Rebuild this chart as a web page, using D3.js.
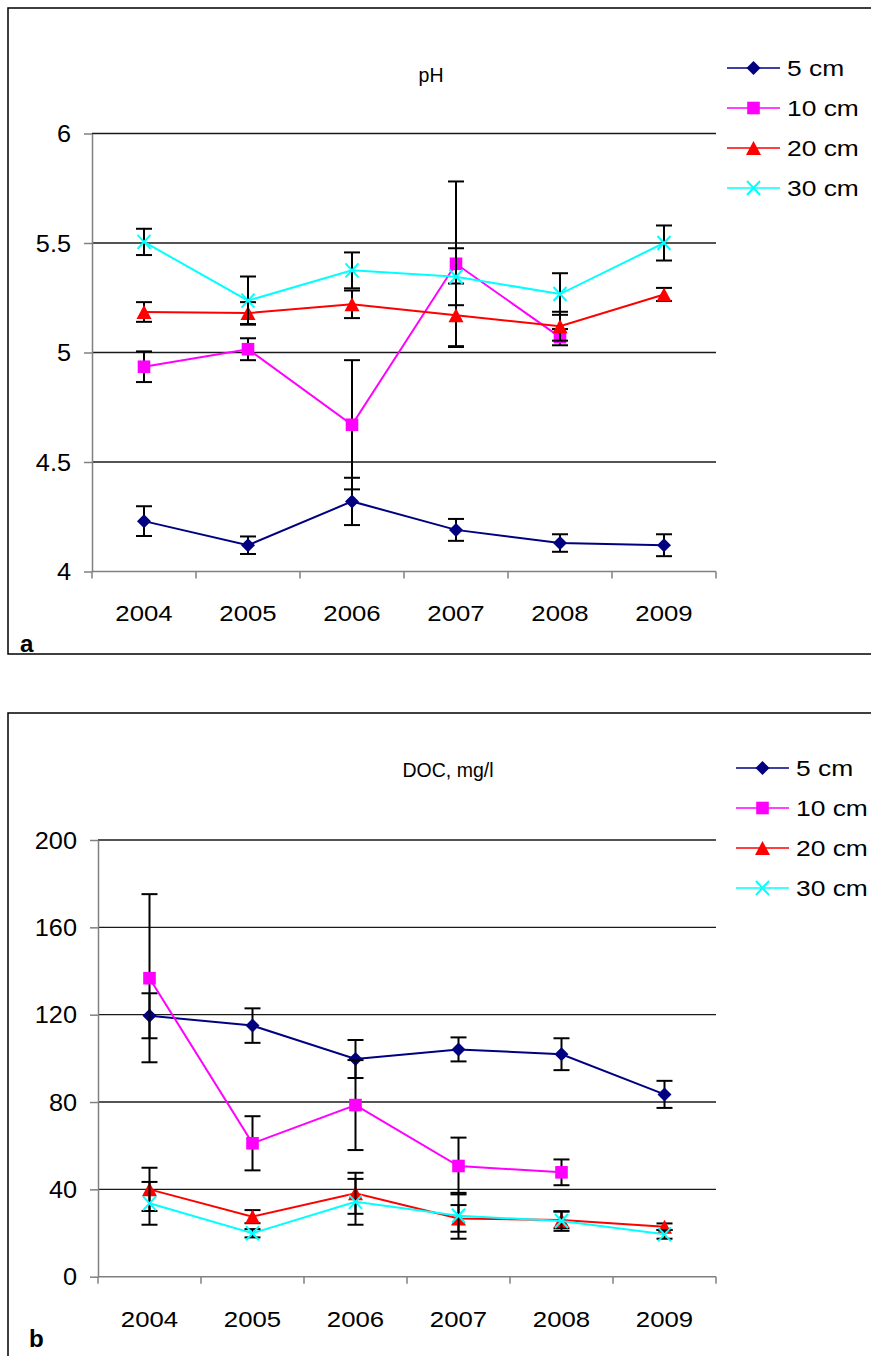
<!DOCTYPE html>
<html>
<head>
<meta charset="utf-8">
<script src="https://d3js.org/d3.v7.min.js"></script>
<style>
  body { margin: 0; background: #fff; }
  svg { display: block; background: #fff; }
  text { font-family: Arial, "Liberation Sans", sans-serif; fill: #000; }
  .axis .domain { stroke: #808080; stroke-width: 1.5px; }
  .axis .tick line { stroke: #808080; stroke-width: 1.5px; }
  .axis .tick text { font-size: 23px; }
</style>
</head>
<body>
<div id="chart"></div>
<script>
  // categories and legend
  const years = ["2004", "2005", "2006", "2007", "2008", "2009"];
  const depths = ["5 cm", "10 cm", "20 cm", "30 cm"];
  const colors = ["#000080", "#ff00ff", "#ff0000", "#00ffff"];
  const shapes = ["diamond", "square", "triangle", "cross"];

  // panel a: pH (mean and error)
  const ph5 = [4.23, 4.12, 4.32, 4.19, 4.13, 4.12];
  const ph5Err = [0.068, 0.04, 0.108, 0.05, 0.04, 0.05];
  const ph10 = [4.935, 5.015, 4.67, 5.405, 5.07, null];
  const ph10Err = [0.07, 0.05, 0.295, 0.376, 0.037, null];
  const ph20 = [5.185, 5.18, 5.22, 5.17, 5.12, 5.265];
  const ph20Err = [0.045, 0.05, 0.063, 0.145, 0.066, 0.03];
  const ph30 = [5.505, 5.237, 5.375, 5.346, 5.267, 5.5];
  const ph30Err = [0.06, 0.11, 0.082, 0.13, 0.095, 0.08];
  const phTicks = [4, 4.5, 5, 5.5, 6];

  // panel b: DOC, mg/l
  const doc5 = [119.5, 115, 99.7, 104.1, 101.9, 83.5];
  const doc5Err = [10.3, 7.9, 8.7, 5.5, 7.3, 6.2];
  const doc10 = [136.7, 61.1, 78.6, 50.7, 47.8, null];
  const doc10Err = [38.5, 12.4, 20.6, 13, 5.9, null];
  const doc20 = [40, 27.5, 38.2, 26.7, 26, 22.9];
  const doc20Err = [9.9, 3, 9.4, 6.1, 3.8, 1.5];
  const doc30 = [33.6, 19.9, 34.3, 27.9, 25.5, 19.4];
  const doc30Err = [9.8, 1.9, 10.5, 10.5, 4.5, 2];
  const docTicks = [0, 40, 80, 120, 160, 200];

  const SX = 1.1; // text in the picture is a bit wider than the font

  const svg = d3.select("#chart").append("svg")
    .attr("width", 871)
    .attr("height", 1356);

  // marker shapes
  function markerPath(s) {
    if (s === "diamond") return "M0,-7L7,0L0,7L-7,0Z";
    if (s === "square") return "M-6.3,-6.3H6.3V6.3H-6.3Z";
    if (s === "triangle") return "M0,-7L7.5,7L-7.5,7Z";
    return "M-6.5,-7L6.5,7M6.5,-7L-6.5,7";
  }
  function drawMarker(g, s, c) {
    const p = g.append("path").attr("d", markerPath(s));
    if (s === "cross") p.attr("fill", "none").attr("stroke", c).attr("stroke-width", 2);
    else p.attr("fill", c);
  }

  function drawPanel(cfg) {
    const g = svg.append("g");

    // outer frame
    g.append("rect")
      .attr("x", cfg.frame[0]).attr("y", cfg.frame[1])
      .attr("width", cfg.frame[2]).attr("height", cfg.frame[3])
      .attr("fill", "none").attr("stroke", "#000").attr("stroke-width", 1.5);

    const x = d3.scaleBand().domain(years).range([cfg.left, cfg.right]);
    const y = d3.scaleLinear().domain(cfg.domain).range([cfg.bottom, cfg.top]);
    const cx = d => x(d) + x.bandwidth() / 2;

    // gridlines
    g.append("g").selectAll("line")
      .data(cfg.ticks.filter(t => t !== cfg.domain[0]))
      .join("line")
      .attr("x1", cfg.left).attr("x2", cfg.right)
      .attr("y1", d => y(d)).attr("y2", d => y(d))
      .attr("stroke", "#1a1a1a").attr("stroke-width", 1.3);

    // y axis
    const ya = g.append("g").attr("class", "axis")
      .attr("transform", `translate(${cfg.left},0)`)
      .call(d3.axisLeft(y).tickValues(cfg.ticks).tickSize(8).tickSizeOuter(0)
        .tickFormat(d => String(d)));
    ya.selectAll(".tick text")
      .attr("x", 0)
      .attr("dy", "0.35em")
      .attr("transform", `translate(-21,0) scale(${SX},1)`);

    // x axis: ticks at category boundaries
    g.append("line")
      .attr("x1", cfg.left).attr("x2", cfg.right)
      .attr("y1", cfg.bottom).attr("y2", cfg.bottom)
      .attr("stroke", "#808080").attr("stroke-width", 1.5);
    g.append("g").selectAll("line")
      .data(years.map(d => x(d)).concat([cfg.right]))
      .join("line")
      .attr("x1", d => d).attr("x2", d => d)
      .attr("y1", cfg.bottom).attr("y2", cfg.bottom + 7)
      .attr("stroke", "#808080").attr("stroke-width", 1.5);
    g.append("g").selectAll("text")
      .data(years)
      .join("text")
      .attr("transform", d => `translate(${cx(d)},${cfg.xLabelY}) scale(${SX + 0.02},1)`)
      .attr("text-anchor", "middle")
      .style("font-size", "23px")
      .text(d => d);

    // title
    g.append("text")
      .attr("transform", `translate(${cfg.titleX},${cfg.titleY})`)
      .attr("text-anchor", "middle")
      .style("font-size", "19.5px")
      .text(cfg.title);

    // panel letter
    g.append("text")
      .attr("transform", `translate(${cfg.letterX},${cfg.letterY}) scale(1.05,1)`)
      .style("font-size", "23px").style("font-weight", "bold")
      .text(cfg.letter);

    // series
    cfg.series.forEach((vals, i) => {
      const errs = cfg.errors[i];
      const pts = years.map((yr, j) => ({ yr, v: vals[j], e: errs[j] })).filter(p => p.v != null);
      const line = d3.line().x(p => cx(p.yr)).y(p => y(p.v));
      g.append("path").datum(pts)
        .attr("d", line)
        .attr("fill", "none").attr("stroke", colors[i]).attr("stroke-width", 2);

      const eb = g.append("g").attr("stroke", "#000").attr("stroke-width", 2);
      pts.forEach(p => {
        const xc = cx(p.yr);
        eb.append("line").attr("x1", xc).attr("x2", xc)
          .attr("y1", y(p.v + p.e)).attr("y2", y(p.v - p.e));
        [p.v + p.e, p.v - p.e].forEach(v => {
          eb.append("line").attr("x1", xc - 8).attr("x2", xc + 8)
            .attr("y1", y(v)).attr("y2", y(v));
        });
      });

      pts.forEach(p => {
        const mg = g.append("g").attr("transform", `translate(${cx(p.yr)},${y(p.v)})`);
        drawMarker(mg, shapes[i], colors[i]);
      });
    });

    // legend
    depths.forEach((name, i) => {
      const ly = cfg.legendY + i * 40;
      const lg = g.append("g");
      lg.append("line")
        .attr("x1", cfg.legendX).attr("x2", cfg.legendX + 53)
        .attr("y1", ly).attr("y2", ly)
        .attr("stroke", colors[i]).attr("stroke-width", 1.5);
      drawMarker(lg.append("g").attr("transform", `translate(${cfg.legendX + 26.5},${ly})`), shapes[i], colors[i]);
      lg.append("text")
        .attr("transform", `translate(${cfg.legendX + 60},${ly + 8}) scale(1.2,1)`)
        .style("font-size", "22px")
        .text(name);
    });
  }

  drawPanel({
    frame: [8, 8, 870, 646],
    left: 92, right: 716, top: 133.5, bottom: 571.5,
    domain: [4, 6], ticks: phTicks,
    xLabelY: 621, title: "pH", titleX: 431, titleY: 82,
    letter: "a", letterX: 20, letterY: 652,
    legendX: 727, legendY: 68,
    series: [ph5, ph10, ph20, ph30],
    errors: [ph5Err, ph10Err, ph20Err, ph30Err]
  });

  drawPanel({
    frame: [8, 713, 870, 660],
    left: 98, right: 716, top: 840, bottom: 1276.7,
    domain: [0, 200], ticks: docTicks,
    xLabelY: 1327, title: "DOC, mg/l", titleX: 448, titleY: 777,
    letter: "b", letterX: 29, letterY: 1347,
    legendX: 736, legendY: 768,
    series: [doc5, doc10, doc20, doc30],
    errors: [doc5Err, doc10Err, doc20Err, doc30Err]
  });
</script>
</body>
</html>
